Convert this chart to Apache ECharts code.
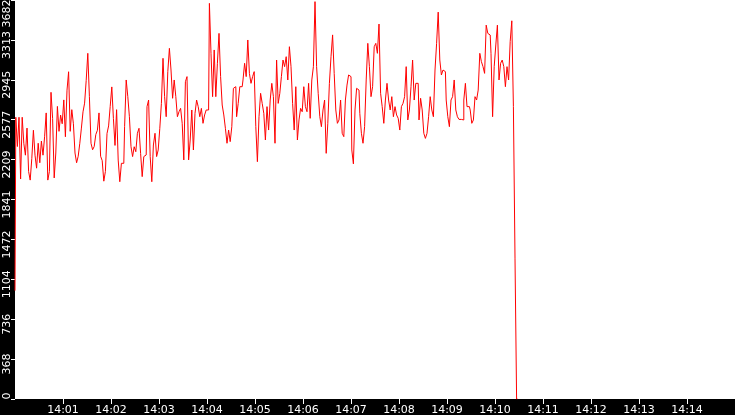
<!DOCTYPE html>
<html>
<head>
<meta charset="utf-8">
<script src="https://cdn.jsdelivr.net/npm/echarts@6/dist/echarts.min.js"></script>
<style>
html,body{margin:0;padding:0;background:#000;}
#c{width:735px;height:415px;}
</style>
</head>
<body>
<div id="c"></div>
<script>
// time of the first sample and spacing between samples
const startClock = '14:00:00';
const endClock = '14:15:00';
const sampleSeconds = 2;

// sampled values (one every 2 s from 14:00:00)
const values = [
1000, 2600, 2330, 2600, 2030, 2600, 2360, 2250, 2500, 2100,
2020, 2220, 2480, 2250, 2130, 2360, 2180, 2380, 2250, 2420,
2640, 2020, 2100, 2830, 2590, 2040, 2270, 2700, 2470, 2620,
2540, 2760, 2420, 2850, 3020, 2470, 2670, 2540, 2270, 2180,
2240, 2360, 2500, 2650, 2730, 2940, 3190, 2790, 2360, 2300,
2330, 2440, 2480, 2640, 2240, 2200, 2010, 2100, 2450, 2520,
2700, 2880, 2590, 2340, 2670,
2205, 2005, 2175, 2175, 2513, 2944, 2790, 2605, 2328, 2237,
2328, 2282, 2452, 2498, 2267, 2052, 2237, 2252, 2698, 2759,
2237, 2005, 2344, 2452, 2237, 2298, 2498, 2728, 3144, 2790,
2605, 3021, 3236, 3036, 2775, 2944, 2790, 2605, 2651, 2682,
2544, 2206, 2928, 2975, 2206, 2390, 2667, 2298, 2636, 2759,
2698, 2605, 2682, 2544, 2621, 2667, 2667, 3651, 3190, 2790,
3221, 2790,
3098, 3374, 2975, 2713, 2621, 2498, 2360, 2482, 2375, 2513,
2867, 2882, 2605, 2728, 2882, 2882, 2944, 3098, 2975, 3313,
3005, 2913, 2975, 3021, 2513, 2190, 2605, 2821, 2728, 2636,
2390, 2698, 2482, 2759, 2913, 2790, 2360, 3128, 2728, 2821,
2975, 3128, 3067, 3159, 2944, 3251, 3067, 2728, 2482, 2882,
2390, 2575, 2682, 2651, 2882, 2698, 2651, 2913, 2590, 2944,
3067, 3667, 3067,
2821, 2605, 2513, 2667, 2759, 2267, 2544, 2913, 3159, 3360,
3005, 2667, 2544, 2575, 2759, 2452, 2421, 2759, 2897, 2990,
2975, 2298, 2170, 2667, 2867, 2851, 2636, 2452, 2360, 2513,
2944, 3282, 3067, 2790, 2882, 3251, 3282, 3190, 3460, 2821,
2698, 2544, 2759, 2913, 2759, 2667, 2790, 2605, 2698, 2621,
2590, 2482, 2698, 2728, 2790, 3067, 2575, 2667, 2882, 3128,
2759, 2913,
2913, 2575, 2775, 2667, 2452, 2405, 2452, 2605, 2790, 2667,
2605, 3036, 3282, 3570, 3128, 2990, 3036, 3021, 2759, 2605,
2513, 2759, 2790, 2944, 2667, 2605, 2580, 2580, 2575, 2759,
2913, 2698, 2698, 2667, 2544, 2575, 2790, 2759, 2851, 3190,
3113, 3067, 3005, 3450, 3374, 3359, 3190, 2605, 3067, 3267,
3450, 2944, 3098, 3128, 3067, 2882, 3067, 2944, 3300, 3490,
2700, 1300, 0
];

// axis tick labels
const xTickLabels = ['14:01','14:02','14:03','14:04','14:05','14:06','14:07',
                     '14:08','14:09','14:10','14:11','14:12','14:13','14:14'];
const yTickLabels = ['0','368','736','1104','1472','1841','2209','2577','2945','3313','3682'];
const yMax = 3682;

function clockToMs(s) {
  const p = s.split(':').map(Number);
  return new Date(2024, 0, 1, p[0], p[1], p[2] || 0).getTime();
}
const t0 = clockToMs(startClock);
const seriesData = values.map((v, i) => [t0 + i * sampleSeconds * 1000, v]);
const xTickTimes = xTickLabels.map(clockToMs);
const yStep = yMax / (yTickLabels.length - 1);

const chart = echarts.init(document.getElementById('c'), null, {renderer: 'canvas'});
chart.setOption({
  animation: false,
  backgroundColor: '#000',
  grid: {
    left: 15, right: 0, top: 0, bottom: 16,
    show: true, backgroundColor: '#fff', borderWidth: 0,
    containLabel: false,
    outerBoundsMode: 'none'
  },
  xAxis: {
    type: 'value',
    min: clockToMs(startClock),
    max: clockToMs(endClock),
    interval: 60000,
    axisLine: {show: false},
    splitLine: {show: false},
    axisTick: {show: true, length: 5, lineStyle: {color: '#fff', width: 1}, customValues: xTickTimes},
    axisLabel: {
      customValues: xTickTimes,
      color: '#fff',
      fontFamily: 'DejaVu Sans',
      fontSize: 11,
      margin: 6,
      formatter: function (v) {
        const i = xTickTimes.indexOf(v);
        return i >= 0 ? xTickLabels[i] : '';
      }
    }
  },
  yAxis: {
    type: 'value',
    min: 0,
    max: yMax,
    interval: yStep,
    axisLine: {show: false},
    splitLine: {show: false},
    axisTick: {show: true, length: 4, lineStyle: {color: '#fff', width: 1}},
    axisLabel: {
      rotate: 90,
      color: '#fff',
      fontFamily: 'DejaVu Sans',
      fontSize: 11,
      margin: 2,
      formatter: function (v) {
        const i = Math.round(v / yStep);
        const txt = yTickLabels[i];
        if (i === 0) return '{mn|' + txt + '}';
        if (i === yTickLabels.length - 1) return '{mx|' + txt + '}';
        return '{a|' + txt + '}';
      },
      rich: {
        a: {color: '#fff', fontFamily: 'DejaVu Sans', fontSize: 11, padding: [0, 10, 0, 0]},
        mn: {color: '#fff', fontFamily: 'DejaVu Sans', fontSize: 11, padding: [0, 0, 0, 6]},
        mx: {color: '#fff', fontFamily: 'DejaVu Sans', fontSize: 11, padding: [0, 27, 0, 0]}
      }
    }
  },
  series: [{
    type: 'line',
    step: 'middle',
    data: seriesData,
    showSymbol: false,
    symbol: 'none',
    lineStyle: {color: '#ff0000', width: 1},
    itemStyle: {color: '#ff0000'},
    silent: true
  }]
});
</script>
</body>
</html>
